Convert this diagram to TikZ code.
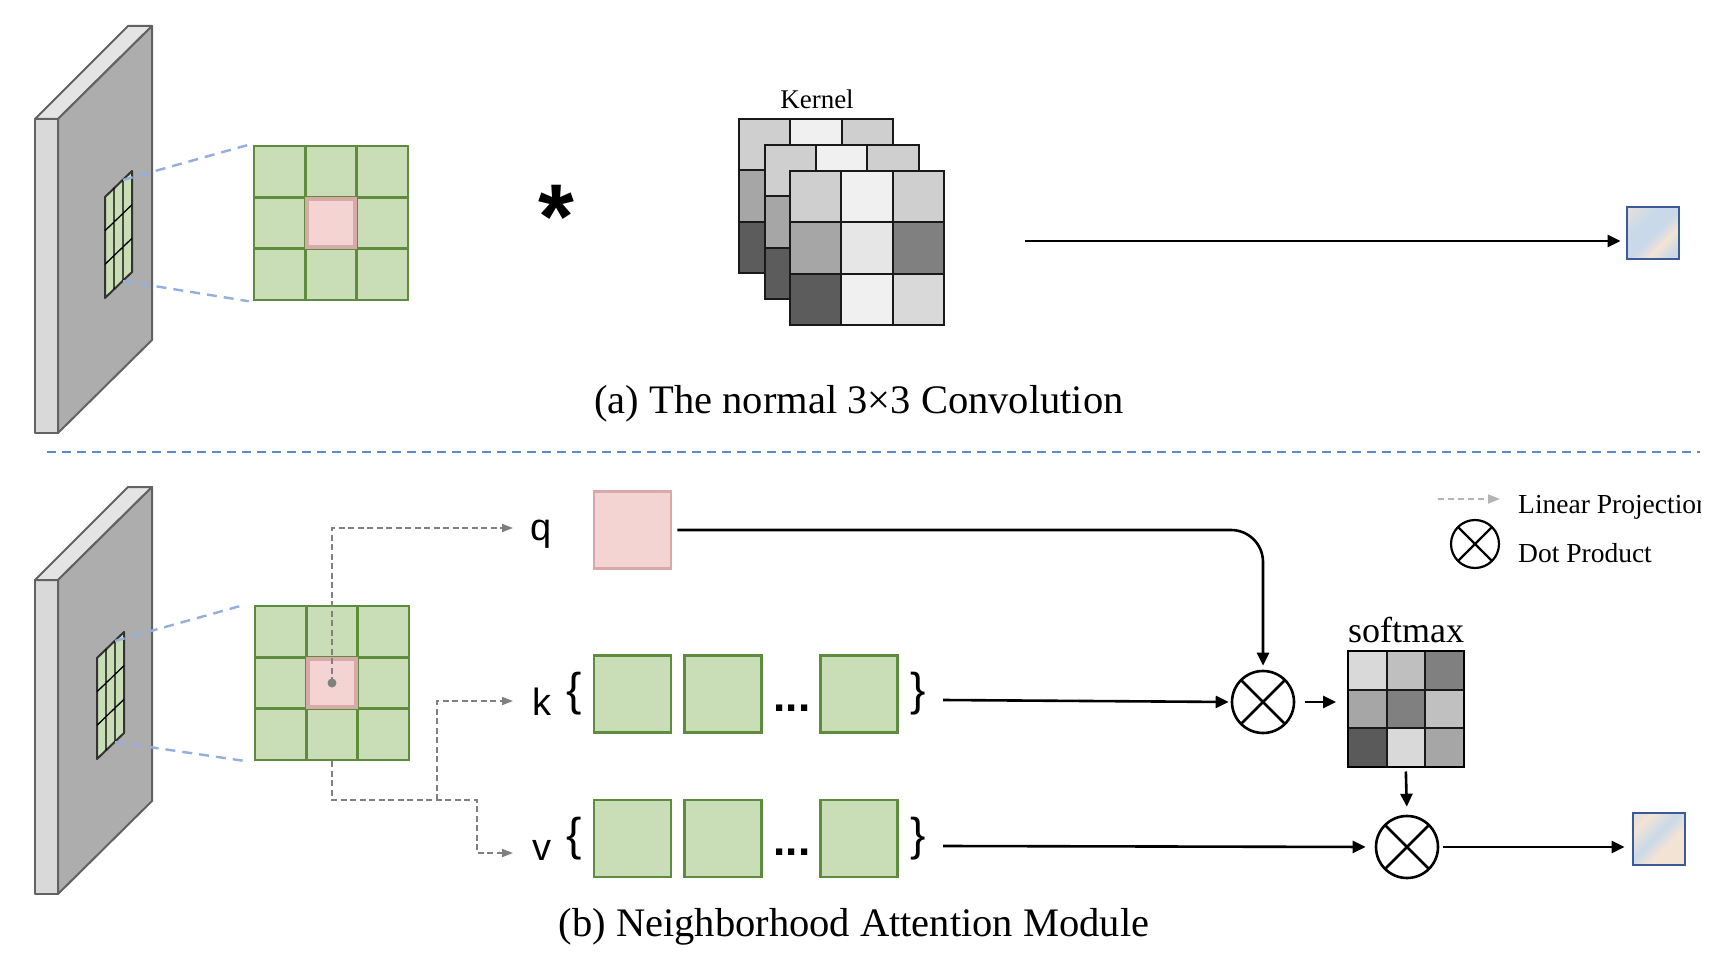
\documentclass[tikz,border=0pt]{standalone}
\usepackage{fontspec}
\setmainfont{Liberation Serif}
\newfontfamily\sansf{Liberation Sans}
\usetikzlibrary{arrows.meta}
\definecolor{gfill}{HTML}{C9DDB6}
\definecolor{gline}{HTML}{5E8B3E}
\definecolor{pfill}{HTML}{F3D4D3}
\definecolor{pline}{HTML}{D7A9A7}
\definecolor{slabfront}{HTML}{D9D9D9}
\definecolor{slabtop}{HTML}{E4E4E4}
\definecolor{slabside}{HTML}{ADADAD}
\definecolor{slabedgec}{HTML}{626262}
\definecolor{zoomline}{HTML}{94AEDD}
\definecolor{sepline}{HTML}{5B8BC9}
\definecolor{projline}{HTML}{808080}
\definecolor{legline}{HTML}{B4B4B4}
\definecolor{outline}{HTML}{3B5A96}
\definecolor{ob}{HTML}{C9D9EA}
\definecolor{op}{HTML}{F3E3D4}
\colorlet{opb}{op!55!ob}
\definecolor{k11}{HTML}{D0CFD0}\definecolor{k12}{HTML}{F0F0F0}\definecolor{k13}{HTML}{D0CFD0}
\definecolor{k21}{HTML}{A6A6A6}\definecolor{k22}{HTML}{E6E6E6}\definecolor{k23}{HTML}{808080}
\definecolor{k31}{HTML}{5C5C5C}\definecolor{k32}{HTML}{F0F0F0}\definecolor{k33}{HTML}{D9D9D9}
\definecolor{s11}{HTML}{D9D9D9}\definecolor{s12}{HTML}{BFBFBF}\definecolor{s13}{HTML}{808080}
\definecolor{s21}{HTML}{A6A6A6}\definecolor{s22}{HTML}{808080}\definecolor{s23}{HTML}{C0C0C0}
\definecolor{s31}{HTML}{5A5A5A}\definecolor{s32}{HTML}{D9D9D9}\definecolor{s33}{HTML}{A6A6A6}
\pgfdeclarehorizontalshading{outa}{100bp}{color(0bp)=(op); color(20bp)=(opb); color(36bp)=(ob); color(52bp)=(ob); color(64bp)=(op); color(78bp)=(ob); color(100bp)=(ob)}
\pgfdeclarehorizontalshading{outb}{100bp}{color(0bp)=(ob); color(28bp)=(op); color(46bp)=(ob); color(60bp)=(op); color(100bp)=(op)}
\newcommand\gridlines[4]{%
  \foreach \i in {1,2}{%
    \draw[#4] ({#1+\i*#3/3},#2) -- ({#1+\i*#3/3},{#2+#3});
    \draw[#4] (#1,{#2+\i*#3/3}) -- ({#1+#3},{#2+\i*#3/3});
  }}
% slab: #1 = vertical shift, #2 = shift of the small patch
\newcommand\drawslab[2]{%
  \begin{scope}[shift={(0,#1)}]
    \filldraw[slabedge, fill=slabfront] (35,119) rectangle (58,433);
    \filldraw[slabedge, fill=slabtop] (35,119) -- (128,26) -- (152,26) -- (58,119) -- cycle;
    \filldraw[slabedge, fill=slabside] (58,119) -- (152,26) -- (152,340) -- (58,433) -- cycle;
    \begin{scope}[shift={(#2,0)}]
      \filldraw[draw=black!80, line width=2pt, fill=gfill, line join=round] (105,197) -- (132,171) -- (132,272) -- (105,298) -- cycle;
      \draw[black, line width=1.3pt] (114,188) -- (114,289) (123,179.7) -- (123,280.7)
        (105,230.7) -- (132,204.7) (105,264.3) -- (132,238.3);
    \end{scope}
  \end{scope}}
\begin{document}
\begin{tikzpicture}[x=1pt,y=-1pt,
  slabedge/.style={draw=slabedgec, line width=2pt, line join=round},
  zoomln/.style={draw=zoomline, line width=2.4pt, dash pattern=on 10pt off 7pt},
  proj/.style={draw=projline, line width=1.8pt, dash pattern=on 6pt off 3.5pt, -{Triangle[length=11pt,width=8pt]}},
  arr/.style={draw=black, line width=2.6pt, -{Triangle[length=13pt,width=12pt]}},
  gridbox/.style={draw=gline, fill=gfill, line width=2.5pt, minimum size=154pt, inner sep=0pt},
  gln/.style={draw=gline, line width=2.5pt},
  pinkc/.style={fill=pfill, draw=pline, line width=4pt, minimum size=48pt, inner sep=0pt},
  gbox/.style={draw=gline, fill=gfill, line width=2.5pt, minimum size=77pt, inner sep=0pt},
  pbox/.style={draw=pline, fill=pfill, line width=2.5pt, minimum size=77pt, inner sep=0pt},
  kcell/.style={draw=black!90, line width=2pt},
  ox/.style={circle, draw, line width=2.6pt, minimum size=62pt, inner sep=0pt,
    path picture={\draw[line width=2.6pt] (path picture bounding box.north west) -- (path picture bounding box.south east)
      (path picture bounding box.north east) -- (path picture bounding box.south west);}},
  outsq/.style={shade, draw=outline, line width=2.8pt, minimum size=52pt, inner sep=0pt},
  lbltxt/.style={font=\sansf\fontsize{38}{40}\selectfont, anchor=base, inner sep=0pt},
  bracetxt/.style={font=\sansf\fontsize{46}{46}\selectfont, inner sep=0pt},
  dotstxt/.style={font=\sansf\bfseries\fontsize{44}{44}\selectfont, anchor=base, inner sep=0pt},
  captext/.style={font=\fontsize{40.5}{44}\selectfont, anchor=base, inner sep=0pt},
  legtext/.style={font=\fontsize{27.5}{30}\selectfont, anchor=base west, inner sep=0pt}]
\fill[white] (0,0) rectangle (1722,968);
\useasboundingbox (0,0) rectangle (1722,968);

% ---------------- (a) ----------------
\drawslab{0}{0}
\node[gridbox] (gA) at (331,223) {};
\gridlines{254}{146}{154}{gln}
\node[pinkc] (cA) at (gA.center) {};
\coordinate (zaT) at (123,180);
\coordinate (zaB) at (123,281);
\draw[zoomln] (zaT) -- ([xshift=-4pt]gA.north west);
\draw[zoomln] (zaB) -- ([xshift=-4pt]gA.south west);

\node[font=\sansf\bfseries\fontsize{92}{92}\selectfont, anchor=base, inner sep=0pt] (ast) at (556,249) {*};

\node[font=\fontsize{27}{30}\selectfont, anchor=base, inner sep=0pt] (kern) at (817,109) {Kernel};
\foreach \ox/\oy in {739/119, 764.5/145, 790/171}{
  \foreach \r in {1,2,3}{
    \foreach \c in {1,2,3}{
      \draw[kcell, fill=k\r\c] ({\ox+(\c-1)*51.33},{\oy+(\r-1)*51.33}) rectangle ++(51.33,51.33);
    }}}

\node[outsq, shading=outa, shading angle=-45] (outA) at (1653,233) {};
\coordinate (aS) at (1025,241);
\draw[arr, shorten >=5pt] (aS) -- (outA.west |- aS);

\node[captext] (capA) at (859,413) {(a) The normal 3×3 Convolution};

% separator
\coordinate (sepL) at (47,452);
\coordinate (sepR) at (1700,452);
\draw[sepline, line width=1.4pt, dash pattern=on 9pt off 6pt] (sepL) -- (sepR);

% ---------------- (b) ----------------
\drawslab{461}{-8}
\node[gridbox] (gB) at (332,683) {};
\gridlines{255}{606}{154}{gln}
\node[pinkc] (cB) at (gB.center) {};
\coordinate (zbT) at (115,641);
\coordinate (zbB) at (115,742);
\draw[zoomln] (zbT) -- ([xshift=-9pt]gB.north west);
\draw[zoomln] (zbB) -- ([xshift=-7pt]gB.south west);

% projections
\coordinate (dot) at (332,683);
\coordinate (qtip) at (513,528);
\coordinate (ktip) at (513,701);
\coordinate (vtip) at (513,853);
\coordinate (vturn) at (477,800);
\coordinate (kbr) at (437,800);
\draw[proj] (dot) |- (qtip);
\draw[proj] (gB.south) |- (vturn) |- (vtip);
\draw[proj] (kbr) |- (ktip);
\fill[projline] (dot) circle (4.5);

% labels
\node[lbltxt] (ql) at (541,540) {q};
\node[lbltxt] (kl) at (542,715) {k};
\node[lbltxt] (vl) at (542,860) {v};
\node[bracetxt] (kbl) at (574,694) {\{};
\node[bracetxt] (kbrr) at (918,694) {\}};
\node[bracetxt] (vbl) at (574,838.5) {\{};
\node[bracetxt] (vbrr) at (918,838.5) {\}};

\node[pbox] (qbox) at (632.5,530) {};
\node[gbox] (k1) at (632.5,694) {};
\node[gbox] (k2) at (723,694) {};
\node[gbox] (k3) at (859,694) {};
\node[gbox] (v1) at (632.5,838.5) {};
\node[gbox] (v2) at (723,838.5) {};
\node[gbox] (v3) at (859,838.5) {};
\node[dotstxt] (kd) at (792,711) {...};
\node[dotstxt] (vd) at (792,855) {...};

% dot products and softmax
\node[ox] (o1) at (1263,702) {};
\node[ox] (o2) at (1407,847) {};
\foreach \r in {1,2,3}{
  \foreach \c in {1,2,3}{
    \draw[kcell, fill=s\r\c] ({1348+(\c-1)*38.5},{651+(\r-1)*38.5}) rectangle ++(38.5,38.5);
  }}
\node[draw, line width=2pt, minimum size=115.5pt, inner sep=0pt] (smx) at (1405.75,708.75) {};
\node[font=\fontsize{36}{40}\selectfont, anchor=base, inner sep=0pt] (smxl) at (1406,642) {softmax};

\node[outsq, shading=outb, shading angle=-45] (outB) at (1659,839) {};

\draw[arr, rounded corners=32pt, shorten >=4pt] ([xshift=5pt]qbox.east) -- (o1.center |- qbox.east) -- (o1.north);
\coordinate (kS) at (943,700);
\coordinate (vS) at (943,846);
\draw[arr, shorten >=2pt] (kS) -- (o1.west);
\draw[arr, shorten >=9pt] (vS) -- (o2.west);
\draw[arr, shorten <=10pt, shorten >=11pt] (o1.east) -- (smx.west |- o1.east);
\draw[arr, shorten <=4pt, shorten >=8pt] (smx.south) -- (o2.north);
\draw[arr, shorten <=4pt, shorten >=7pt] (o2.east) -- (outB.west |- o2.east);

\node[captext] (capB) at (854,936) {(b) Neighborhood Attention Module};

% legend
\coordinate (lgS) at (1438,499);
\coordinate (lgE) at (1500,499);
\draw[legline, line width=1.8pt, dash pattern=on 6pt off 4pt, -{Triangle[length=12pt,width=9pt]}] (lgS) -- (lgE);
\node[ox, line width=2.2pt, minimum size=48pt, path picture={\draw[line width=2.2pt] (path picture bounding box.north west) -- (path picture bounding box.south east)
      (path picture bounding box.north east) -- (path picture bounding box.south west);}] (olg) at (1475,544) {};
\begin{scope}
  \clip (1505,470) rectangle (1700,580);
  \node[legtext] (lgt1) at (1518,513) {Linear Projection};
  \node[legtext] (lgt2) at (1518,562) {Dot Product};
\end{scope}
\end{tikzpicture}
\end{document}
